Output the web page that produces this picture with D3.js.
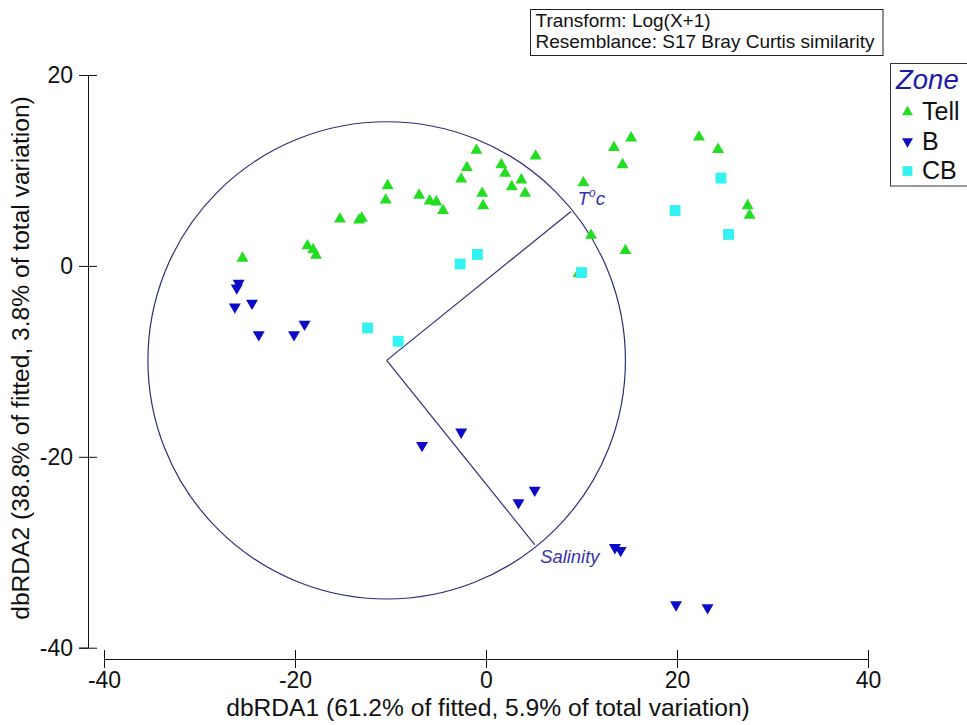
<!DOCTYPE html>
<html>
<head>
<meta charset="utf-8">
<script src="https://cdn.jsdelivr.net/npm/d3@7/dist/d3.min.js"></script>
<style>
  html, body { margin: 0; padding: 0; background: #fff; }
  svg { display: block; font-family: "Liberation Sans", Arial, sans-serif; }
</style>
</head>
<body>
<svg id="chart" width="967" height="725"></svg>
<script>
// ---- Data ----
const zones = ["Tell", "B", "CB"];
const tellPoints = [
  [-25.5, 0.8], [-18.7, 2.1], [-18.1, 1.7], [-17.8, 1.1], [-15.3, 4.9],
  [-13.3, 4.8], [-13.0, 5.0], [-10.3, 8.4], [-10.5, 6.9], [-7.0, 7.4],
  [-5.9, 6.8], [-5.2, 6.7], [-4.5, 5.8], [-1.0, 12.1], [-2.0, 10.3],
  [-2.6, 9.1], [-0.4, 7.6], [-0.3, 6.3], [1.6, 10.6], [2.0, 9.7],
  [2.7, 8.3], [3.7, 9.0], [4.1, 7.6], [5.2, 11.5], [10.2, 8.7],
  [11.0, 3.2], [14.6, 1.6], [9.7, -0.8], [13.4, 12.4], [15.2, 13.4],
  [14.3, 10.6], [22.3, 13.5], [24.3, 12.2], [27.4, 6.3], [27.6, 5.3]
];
const bPoints = [
  [-25.9, -1.8], [-26.1, -2.3], [-26.3, -4.3], [-24.5, -3.9], [-23.8, -7.2],
  [-20.1, -7.2], [-19.0, -6.1], [-6.7, -18.8], [-2.6, -17.4], [3.4, -24.8],
  [5.1, -23.5], [13.5, -29.5], [14.1, -29.8], [19.9, -35.5], [23.2, -35.8]
];
const cbPoints = [
  [-12.4, -6.5], [-9.2, -7.9], [-2.7, 0.2], [-0.9, 1.2], [10.0, -0.7],
  [19.8, 5.8], [24.6, 9.2], [25.4, 3.3]
];
const circleCenter = [-10.4, -9.9];
const circleRadius = 25;
const vectorNames = ["Tºc", "Salinity"];
const vectorEnds = [[8.9, 5.7], [5.1, -29.2]];
const xTicks = [-40, -20, 0, 20, 40];
const yTicks = [20, 0, -20, -40];
const xTitle = "dbRDA1 (61.2% of fitted, 5.9% of total variation)";
const yTitle = "dbRDA2 (38.8% of fitted, 3.8% of total variation)";
const infoLines = ["Transform: Log(X+1)", "Resemblance: S17 Bray Curtis similarity"];
const legendTitle = "Zone";

// ---- Styles ----
const colors = { Tell: "#22dd22", B: "#0b0bc8", CB: "#33f2f2" };
const lineColor = "#2e2e78";
const labelBlue = "#3434b0";
const FONT = "Liberation Sans, Arial, sans-serif";

const svg = d3.select("#chart");
const x = d3.scaleLinear().domain([-40, 40]).range([104, 868]);
const y = d3.scaleLinear().domain([-40, 20]).range([647.7, 75]);
const xAxisY = 659;
const yAxisX = 88;
const fmt = d => String(d);

// Axes
const gx = svg.append("g").attr("transform", `translate(0,${xAxisY})`)
  .call(d3.axisBottom(x).tickValues(xTicks).tickFormat(fmt).tickSizeOuter(0).tickSize(9));
gx.selectAll(".tick line").attr("y1", -9).attr("y2", 9).attr("stroke", "#111");
gx.selectAll(".tick text").attr("y", 13).attr("font-size", 23).attr("fill", "#111")
  .attr("font-family", FONT);
gx.select(".domain").attr("stroke", "#111");

const gy = svg.append("g").attr("transform", `translate(${yAxisX},0)`)
  .call(d3.axisLeft(y).tickValues(yTicks).tickFormat(fmt).tickSizeOuter(0).tickSize(9));
gy.selectAll(".tick line").attr("x1", -9).attr("x2", 9).attr("stroke", "#111");
gy.selectAll(".tick text").attr("x", -15).attr("font-size", 23).attr("fill", "#111")
  .attr("font-family", FONT);
gy.select(".domain").attr("stroke", "#111");

// Axis titles
svg.append("text").attr("x", 488).attr("y", 716)
  .attr("text-anchor", "middle").attr("font-size", 24.6).attr("fill", "#111").text(xTitle);
svg.append("text").attr("transform", `translate(29,358) rotate(-90)`)
  .attr("text-anchor", "middle").attr("font-size", 24.6).attr("fill", "#111").text(yTitle);

// Circle & vectors
const cx = x(circleCenter[0]), cy = y(circleCenter[1]);
svg.append("ellipse").attr("cx", cx).attr("cy", cy)
  .attr("rx", x(circleRadius) - x(0)).attr("ry", y(0) - y(circleRadius))
  .attr("fill", "none").attr("stroke", lineColor).attr("stroke-width", 1.2);
vectorEnds.forEach(e => {
  svg.append("line").attr("x1", cx).attr("y1", cy).attr("x2", x(e[0])).attr("y2", y(e[1]))
    .attr("stroke", lineColor).attr("stroke-width", 1.2);
});

// Vector labels
const t1 = svg.append("text").attr("x", x(vectorEnds[0][0]) + 6.5).attr("y", y(vectorEnds[0][1]) - 6.5)
  .attr("font-size", 19).attr("font-style", "italic").attr("fill", labelBlue);
t1.append("tspan").text("T");
t1.append("tspan").attr("dy", -8).attr("font-size", 12).text("o");
t1.append("tspan").attr("dy", 8).text("c");
svg.append("text").attr("x", x(vectorEnds[1][0]) + 5.5).attr("y", y(vectorEnds[1][1]) + 18.5)
  .attr("font-size", 18.4).attr("font-style", "italic").attr("fill", labelBlue).text(vectorNames[1]);

// Points
const triUp = d3.symbol().type(d3.symbolTriangle).size(62);
const sq = d3.symbol().type(d3.symbolSquare).size(118);
svg.append("g").selectAll("path").data(tellPoints).join("path")
  .attr("d", triUp).attr("transform", d => `translate(${x(d[0])},${y(d[1])})`)
  .attr("fill", colors.Tell);
svg.append("g").selectAll("path").data(bPoints).join("path")
  .attr("d", triUp).attr("transform", d => `translate(${x(d[0])},${y(d[1])}) rotate(180)`)
  .attr("fill", colors.B);
svg.append("g").selectAll("path").data(cbPoints).join("path")
  .attr("d", sq).attr("transform", d => `translate(${x(d[0])},${y(d[1])})`)
  .attr("fill", colors.CB);

// Info box
svg.append("rect").attr("x", 530.5).attr("y", 9.5).attr("width", 352.5).attr("height", 46)
  .attr("fill", "#fff").attr("stroke", "#222").attr("stroke-width", 1);
infoLines.forEach((t, i) => {
  svg.append("text").attr("x", 535.5).attr("y", 26.7 + i * 21.6).attr("font-size", 19)
    .attr("fill", "#111").text(t);
});

// Zone legend
svg.append("rect").attr("x", 890.5).attr("y", 63.5).attr("width", 90).attr("height", 122.5)
  .attr("fill", "#fff").attr("stroke", "#333").attr("stroke-width", 1);
svg.append("text").attr("x", 896).attr("y", 88.5).attr("font-size", 27.5).attr("font-style", "italic")
  .attr("fill", "#1c1ca8").text(legendTitle);
const legSym = { Tell: [d3.symbolTriangle, 0, 52], B: [d3.symbolTriangle, 180, 52], CB: [d3.symbolSquare, 0, 95] };
zones.forEach((z, i) => {
  const yy = 111 + i * 29.5;
  svg.append("path").attr("d", d3.symbol().type(legSym[z][0]).size(legSym[z][2]))
    .attr("transform", `translate(907.5,${yy + 1}) rotate(${legSym[z][1]})`).attr("fill", colors[z]);
  svg.append("text").attr("x", 922).attr("y", yy + 9).attr("font-size", 25).attr("fill", "#111").text(z);
});
</script>
</body>
</html>
